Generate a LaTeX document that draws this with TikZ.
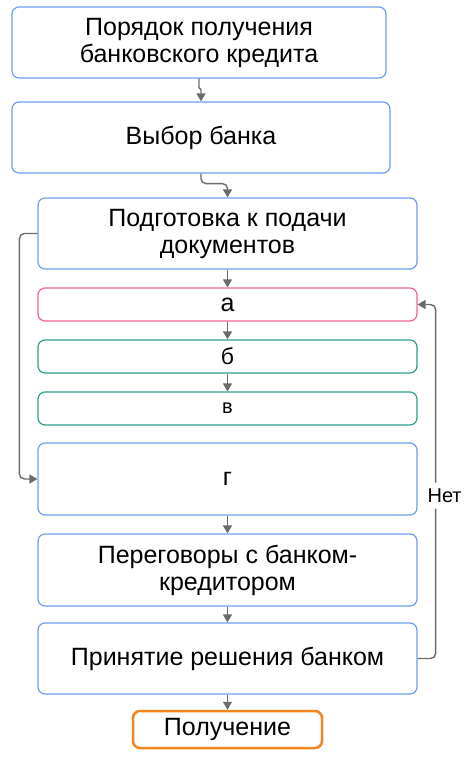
\documentclass[tikz,border=0pt]{standalone}
\usepackage{fontspec}
\setmainfont{Liberation Sans}
\usetikzlibrary{arrows.meta}
\definecolor{boxblue}{HTML}{6D9EEB}
\definecolor{boxpink}{HTML}{F0668A}
\definecolor{boxteal}{HTML}{2E9C8C}
\definecolor{boxorange}{HTML}{F5841F}
\definecolor{arrgray}{HTML}{6B6B6B}

\begin{document}
\begin{tikzpicture}[x=1pt,y=-1pt,
        box/.style={draw=boxblue,line width=1.2pt,rounded corners=7pt,minimum width=379pt,minimum height=71pt,
            align=center,inner sep=0pt,font=\fontsize{25}{27}\selectfont},
        slim/.style={box,minimum height=33pt},
        arr/.style={draw=arrgray,line width=1.4pt,-{Triangle[width=9pt,length=8pt]}},
        lbl/.style={fill=white,inner xsep=1pt,inner ysep=6pt,font=\fontsize{20}{22}\selectfont}]
            \useasboundingbox (0,0) rectangle (470,757);
            \node[box,minimum width=374pt] (order) at (199,42.5) {Порядок получения\\банковского кредита};
            \node[box,minimum width=378pt] (bank) at (201,137.5) {Выбор банка};
            \node[box] (prep) at (227.5,233.5) {Подготовка к подачи\\документов};
            \node[slim,draw=boxpink,font=\fontsize{25}{27}\selectfont] (a) at (227.5,304.5) {а};
            \node[slim,draw=boxteal,font=\fontsize{23}{26}\selectfont] (b) at (227.5,356.5) {б};
            \node[slim,draw=boxteal,font=\fontsize{20}{22}\selectfont] (v) at (227.5,408.5) {в};
            \node[box,minimum height=72pt] (g) at (227.5,479) {г};
            \node[box,minimum height=72pt] (talks) at (227.5,570) {Переговоры с банком-\\кредитором};
            \node[box] (decision) at (227.5,658.5) {Принятие решения банком};
            \node[box,draw=boxorange,line width=2.5pt,minimum width=189pt,minimum height=37pt] (get) at (227.5,729.5) {Получение};
            % connectors
            \draw[arr] (order.south) -- ++(0,9) -- ++(2,2) -- (bank.north);
            \draw[arr,rounded corners=5pt] (bank.south) -- ++(0,10) -| (prep.north);
            \draw[arr] (prep) -- (a);
            \draw[arr] (a) -- (b);
            \draw[arr] (b) -- (v);
            \draw[arr,rounded corners=5pt] (prep.west) -- ++(-18,0) |- (g.west);
            \draw[arr] (g) -- (talks);
            \draw[arr] (talks) -- (decision);
            \draw[arr] (decision) -- (get);
            \draw[arr,rounded corners=5pt] (decision.east) -- ++(18,0) |- node[lbl,pos=0.23,xshift=9pt] {Нет} (a.east);
        \end{tikzpicture}
\end{document}
